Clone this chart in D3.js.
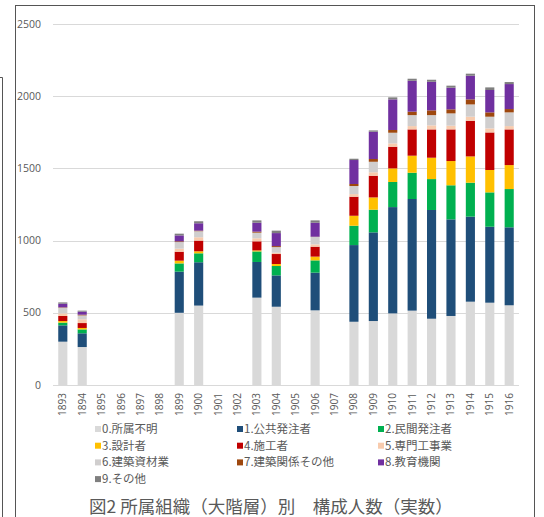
<!DOCTYPE html>
<html>
<head>
<meta charset="utf-8">
<script src="https://cdn.jsdelivr.net/npm/d3@7"></script>
<style>
  body { margin: 0; background: #fff; }
  svg { display: block; }
</style>
</head>
<body>
<svg id="chart" width="544" height="517"></svg>
<script>
// years on the x axis
const years = d3.range(1893, 1917).map(String);

// series names (legend order)
const categories = ["0.所属不明", "1.公共発注者", "2.民間発注者", "3.設計者", "4.施工者",
  "5.専門工事業", "6.建築資材業", "7.建築関係その他", "8.教育機関", "9.その他"];

const colors = ["#d9d9d9", "#1f4e79", "#00b050", "#ffc000", "#c00000",
  "#f8cbad", "#d0cece", "#9e480e", "#7030a0", "#7f7f7f"];

// values per year, 1893..1916 (0 = no data that year)
const s0 = [300, 263, 0, 0, 0, 0, 500, 550, 0, 0, 605, 542, 0, 517, 0, 438, 443, 496, 515, 459, 478, 577, 570, 552];
const s1 = [113, 95, 0, 0, 0, 0, 285, 300, 0, 0, 247, 217, 0, 261, 0, 531, 614, 736, 773, 753, 669, 589, 526, 540];
const s2 = [19, 27, 0, 0, 0, 0, 57, 62, 0, 0, 73, 65, 0, 85, 0, 134, 157, 174, 182, 214, 236, 235, 238, 265];
const s3 = [11, 10, 0, 0, 0, 0, 19, 14, 0, 0, 7, 14, 0, 26, 0, 69, 85, 94, 118, 148, 168, 182, 155, 166];
const s4 = [35, 34, 0, 0, 0, 0, 62, 74, 0, 0, 63, 69, 0, 69, 0, 132, 150, 150, 182, 196, 219, 247, 260, 247];
const s5 = [18, 26, 0, 0, 0, 0, 21, 23, 0, 0, 21, 9, 0, 16, 0, 18, 24, 23, 23, 28, 26, 28, 28, 23];
const s6 = [39, 27, 0, 0, 0, 0, 46, 42, 0, 0, 39, 39, 0, 51, 0, 56, 73, 74, 76, 71, 85, 85, 81, 95];
const s7 = [3, 5, 0, 0, 0, 0, 5, 4, 0, 0, 7, 7, 0, 2, 0, 14, 19, 19, 24, 33, 28, 35, 30, 23];
const s8 = [25, 21, 0, 0, 0, 0, 41, 51, 0, 0, 62, 90, 0, 97, 0, 166, 189, 212, 214, 198, 150, 164, 155, 173];
const s9 = [9, 7, 0, 0, 0, 0, 12, 14, 0, 0, 16, 17, 0, 16, 0, 9, 9, 14, 14, 14, 14, 14, 18, 14];

const yTicks = [0, 500, 1000, 1500, 2000, 2500];
const title = "図2 所属組織（大階層）別　構成人数（実数）";

const series = [s0, s1, s2, s3, s4, s5, s6, s7, s8, s9];
const table = years.map((y, i) => {
  const row = { year: y };
  categories.forEach((c, k) => row[c] = series[k][i]);
  return row;
});

const svg = d3.select("#chart");
const txt = "#595959";
const jp = "'Noto Sans CJK JP', 'Noto Sans', sans-serif";
const num = "'Open Sans', 'Noto Sans', sans-serif";

// window frames
svg.append("rect").attr("x", 15.5).attr("y", 5.5).attr("width", 519).attr("height", 520)
  .attr("fill", "#fff").attr("stroke", "#555").attr("stroke-width", 1);
svg.append("path").attr("d", "M0,77.5H2.5V517").attr("fill", "none").attr("stroke", "#555");

const x = d3.scaleBand().domain(years).range([53, 519]).paddingInner(0.53).paddingOuter(0.27);
const y = d3.scaleLinear().domain([0, 2500]).range([385, 24]);

// gridlines
svg.append("g").selectAll("line").data(yTicks).join("line")
  .attr("x1", 53).attr("x2", 519)
  .attr("y1", d => Math.round(y(d)) + 0.5).attr("y2", d => Math.round(y(d)) + 0.5)
  .attr("stroke", "#d9d9d9");

svg.append("g").selectAll("text").data(yTicks).join("text")
  .attr("x", 41).attr("y", d => y(d)).attr("dy", "0.35em")
  .attr("text-anchor", "end").attr("fill", txt)
  .style("font", `10.5px ${num}`).text(d => d);

// stacked bars
const stack = d3.stack().keys(categories)(table);
svg.append("g").selectAll("g").data(stack).join("g")
  .attr("fill", (d, i) => colors[i])
  .selectAll("rect").data(d => d).join("rect")
  .attr("x", d => x(d.data.year))
  .attr("width", x.bandwidth())
  .attr("y", d => y(d[1]))
  .attr("height", d => y(d[0]) - y(d[1]));

// x labels (rotated)
svg.append("g").selectAll("text").data(years).join("text")
  .attr("transform", d => `translate(${x(d) + x.bandwidth() / 2},393) rotate(-90)`)
  .attr("text-anchor", "end").attr("dy", "0.35em").attr("fill", txt)
  .style("font", `10px ${num}`).text(d => d);

// legend
const legend = svg.append("g").selectAll("g").data(categories).join("g")
  .attr("transform", (d, i) => `translate(${[95, 237, 378][i % 3]},${429 + Math.floor(i / 3) * 16.7})`);
legend.append("rect").attr("x", 0).attr("y", -3).attr("width", 6).attr("height", 6)
  .attr("fill", (d, i) => colors[i]);
legend.append("text").attr("x", 7).attr("dy", "0.35em").attr("fill", txt)
  .style("font", `11.5px ${jp}`).text(d => d);

svg.append("text").attr("x", 89).attr("y", 507).attr("dy", "0.35em").attr("fill", txt)
  .style("font", `17.5px ${jp}`).text(title);
</script>
</body>
</html>
